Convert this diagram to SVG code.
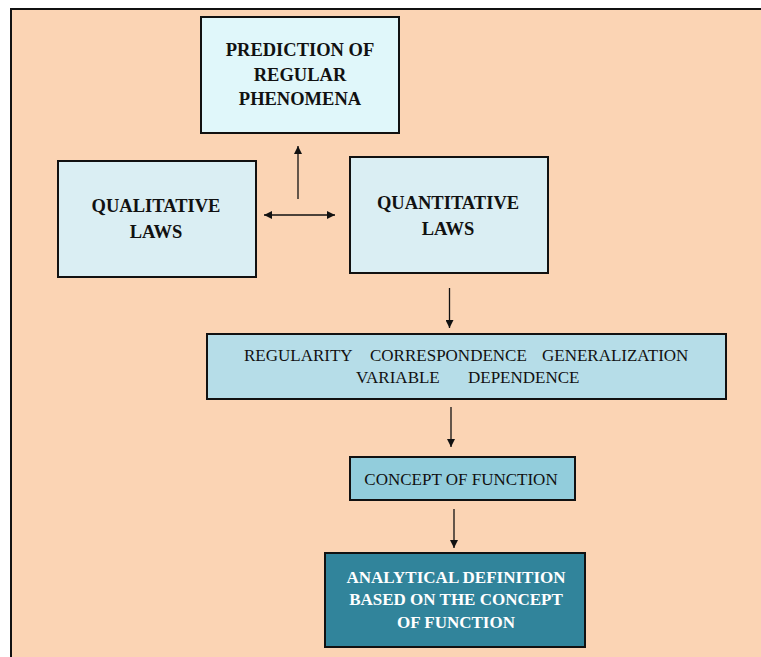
<svg xmlns="http://www.w3.org/2000/svg" width="761" height="657" viewBox="0 0 761 657">
  <style>
    .box { stroke: #111; stroke-width: 2; }
    .bold { font-family: "Liberation Serif", "Times New Roman", serif; font-weight: bold; font-size: 18.5px; fill: #111; text-anchor: middle; }
    .reg { font-family: "Liberation Serif", "Times New Roman", serif; font-size: 17px; fill: #111; text-anchor: middle; }
    .word { font-family: "Liberation Serif", "Times New Roman", serif; font-size: 17px; fill: #111; }
    .light { font-family: "Liberation Serif", "Times New Roman", serif; font-weight: bold; font-size: 17px; fill: #ffffff; text-anchor: middle; }
    .conn { stroke: #111; stroke-width: 1.3; fill: none; }
  </style>
  <defs>
    <marker id="head" viewBox="0 0 10 10" refX="10" refY="5" markerWidth="8" markerHeight="8" markerUnits="userSpaceOnUse" orient="auto-start-reverse">
      <path d="M0,0 L10,5 L0,10 Z" fill="#111"/>
    </marker>
  </defs>

  <rect x="0" y="0" width="761" height="657" fill="#ffffff"/>
  <!-- background panel -->
  <rect id="panel" x="11" y="9" width="800" height="700" fill="#FBD4B4" stroke="#111" stroke-width="2"/>

  <g id="prediction">
    <rect class="box" x="201" y="17" width="198" height="116" fill="#E0F7FA"/>
    <text class="bold" x="300" y="55.5">PREDICTION OF</text>
    <text class="bold" x="300" y="80.5">REGULAR</text>
    <text class="bold" x="300" y="105">PHENOMENA</text>
  </g>

  <g id="qualitative">
    <rect class="box" x="58" y="161" width="198" height="116" fill="#DAEEF3"/>
    <text class="bold" x="156" y="212">QUALITATIVE</text>
    <text class="bold" x="156" y="237.5">LAWS</text>
  </g>

  <g id="quantitative">
    <rect class="box" x="350" y="157" width="198" height="116" fill="#DAEEF3"/>
    <text class="bold" x="448" y="209">QUANTITATIVE</text>
    <text class="bold" x="448" y="235">LAWS</text>
  </g>

  <g id="notions">
    <rect class="box" x="207" y="334" width="519" height="65" fill="#B6DDE8"/>
    <text class="word" x="244" y="361">REGULARITY</text>
    <text class="word" x="370" y="361">CORRESPONDENCE</text>
    <text class="word" x="542" y="361">GENERALIZATION</text>
    <text class="word" x="356" y="383">VARIABLE</text>
    <text class="word" x="468" y="383">DEPENDENCE</text>
  </g>

  <g id="concept">
    <rect class="box" x="350" y="457" width="225" height="43" fill="#92CDDC"/>
    <text class="reg" x="461" y="485">CONCEPT OF FUNCTION</text>
  </g>

  <g id="definition">
    <rect class="box" x="325" y="553" width="260" height="94" fill="#31849B"/>
    <text class="light" x="456" y="582.5">ANALYTICAL DEFINITION</text>
    <text class="light" x="456" y="605">BASED ON THE CONCEPT</text>
    <text class="light" x="456" y="627.5">OF FUNCTION</text>
  </g>

  <g id="connectors">
    <line class="conn" x1="298" y1="199" x2="298" y2="146" marker-end="url(#head)"/>
    <line class="conn" x1="264" y1="215" x2="335" y2="215" marker-start="url(#head)" marker-end="url(#head)"/>
    <line class="conn" x1="449.5" y1="288" x2="449.5" y2="328" marker-end="url(#head)"/>
    <line class="conn" x1="451" y1="407" x2="451" y2="447" marker-end="url(#head)"/>
    <line class="conn" x1="454" y1="509" x2="454" y2="548" marker-end="url(#head)"/>
  </g>
</svg>
